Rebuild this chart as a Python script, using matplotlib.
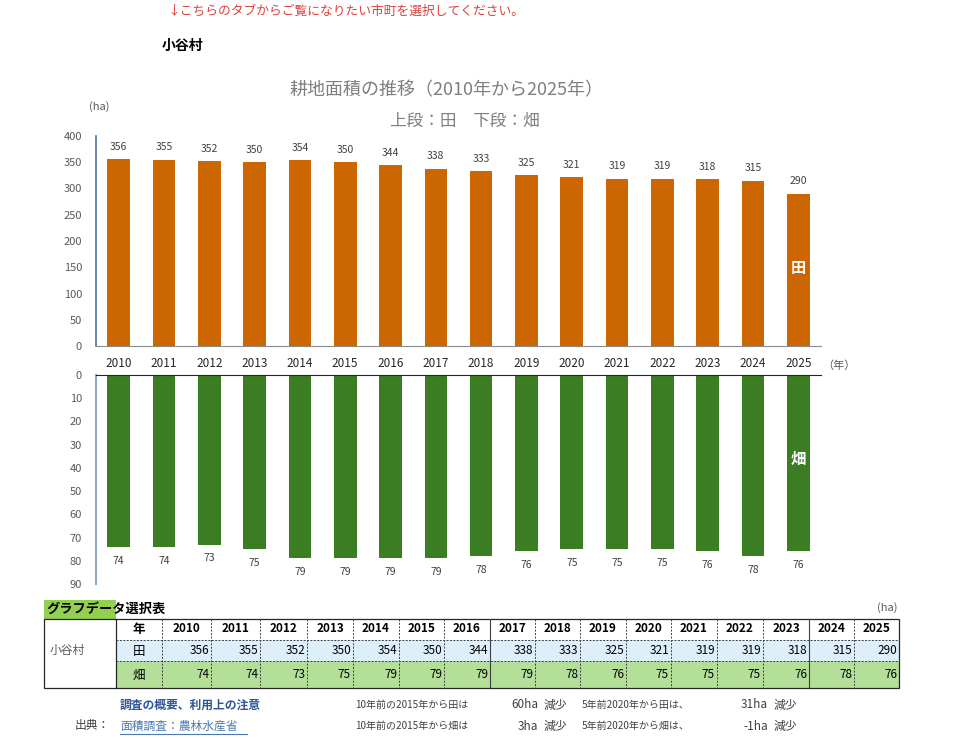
import matplotlib.pyplot as plt
from matplotlib.patches import Rectangle

plt.rcParams['font.family'] = ['Noto Sans CJK JP', 'DejaVu Sans']

# data
years = [2010, 2011, 2012, 2013, 2014, 2015, 2016, 2017,
         2018, 2019, 2020, 2021, 2022, 2023, 2024, 2025]
ta = [356, 355, 352, 350, 354, 350, 344, 338, 333, 325, 321, 319, 319, 318, 315, 290]   # 田
hata = [74, 74, 73, 75, 79, 79, 79, 79, 78, 76, 75, 75, 75, 76, 78, 76]                # 畑
town = '小谷村'

orange = '#CC6600'
green = '#3A7D22'
gray_txt = '#595959'

fig = plt.figure(figsize=(9.6, 7.38), dpi=100)
W, H = 960, 738

x = list(range(len(years)))

# upper chart (田)
ax1 = fig.add_axes([96 / W, 1 - 346 / H, 725 / W, 210 / H])
ax1.bar(x, ta, width=0.5, color=orange)
ax1.set_xlim(-0.5, len(years) - 0.5)
ax1.set_ylim(0, 400)
ax1.set_yticks(range(0, 401, 50))
ax1.set_xticks(x)
ax1.set_xticklabels([str(y) for y in years], fontsize=8.5, color='#262626')
ax1.tick_params(axis='x', length=0, pad=8)
ax1.tick_params(axis='y', length=0, pad=10, labelsize=8, labelcolor=gray_txt)
for s in ['top', 'right']:
    ax1.spines[s].set_visible(False)
ax1.spines['left'].set_color('#4F7394')
ax1.spines['left'].set_linewidth(1.2)
ax1.spines['bottom'].set_color('#8C8C8C')
for i, v in enumerate(ta):
    ax1.annotate(str(v), (i, v), xytext=(0, 9), textcoords='offset points',
                 ha='center', va='center', fontsize=7.5, color='#404040')
ax1.text(len(years) - 1, 148, '田', color='white', fontsize=11, fontweight='bold',
         ha='center', va='center')

# lower chart (畑), inverted
ax2 = fig.add_axes([96 / W, 1 - 584 / H, 725 / W, 209 / H])
ax2.bar(x, hata, width=0.5, color=green)
ax2.set_xlim(-0.5, len(years) - 0.5)
ax2.set_ylim(90, 0)
ax2.set_yticks(range(0, 91, 10))
ax2.set_xticks([])
ax2.tick_params(axis='y', length=0, pad=10, labelsize=8, labelcolor=gray_txt)
for s in ['bottom', 'right']:
    ax2.spines[s].set_visible(False)
ax2.spines['top'].set_color('#262626')
ax2.spines['left'].set_color('#8EA9C1')
ax2.spines['left'].set_linewidth(1.5)
for i, v in enumerate(hata):
    ax2.annotate(str(v), (i, v), xytext=(0, -10), textcoords='offset points',
                 ha='center', va='center', fontsize=7.5, color='#404040')
ax2.text(len(years) - 1, 36, '畑', color='white', fontsize=11, fontweight='bold',
         ha='center', va='center')

# overlay in pixel coordinates for the sheet text and table
ov = fig.add_axes([0, 0, 1, 1])
ov.set_xlim(0, W)
ov.set_ylim(H, 0)
ov.axis('off')
ov.patch.set_alpha(0)

ov.text(168, 11, '↓こちらのタブからご覧になりたい市町を選択してください。',
        color='#E0403C', fontsize=9.2, va='center')
ov.text(162, 46, town, fontsize=10, fontweight='bold', va='center')
ov.text(447, 90, '耕地面積の推移（2010年から2025年）', fontsize=13, color='#7F7F7F',
        ha='center', va='center')
ov.text(465, 121, '上段：田　下段：畑', fontsize=12, color='#7F7F7F',
        ha='center', va='center')
ov.text(89, 107, '(ha)', fontsize=8, color=gray_txt, va='center')
ov.text(822, 366, '（年）', fontsize=8, color=gray_txt, va='center')

# table
ov.add_patch(Rectangle((44, 600), 72, 19, color='#92D050', lw=0))
ov.text(46, 609, 'グラフデータ選択表', fontsize=9.5, fontweight='bold', va='center')
ov.text(897, 608, '(ha)', fontsize=8, color=gray_txt, va='center', ha='right')

edges = [162, 211, 260, 307, 353, 399, 444, 490, 535, 580, 626, 671, 717, 763, 809, 854, 899]
top, r1, r2, bot = 619, 640, 661, 688
ov.add_patch(Rectangle((116, r1), 899 - 116, r2 - r1, color='#DDEFFB', lw=0))
ov.add_patch(Rectangle((116, r2), 899 - 116, bot - r2, color='#B4DF98', lw=0))
ov.add_patch(Rectangle((44, top), 899 - 44, bot - top, fill=False, ec='#262626', lw=0.9))
ov.plot([116, 116], [top, bot], color='#262626', lw=0.9)
for y in [r1, r2]:
    ov.plot([116, 899], [y, y], color='#404040', lw=0.7, ls=(0, (2, 1.5)))
for e in edges[:-1]:
    solid = e in (490, 809)
    ov.plot([e, e], [top, bot], color='#404040', lw=0.8 if solid else 0.7,
            ls='-' if solid else (0, (2, 1.5)))
ov.text(50, 650, town, fontsize=8.5, color=gray_txt, va='center')
ov.text(139, 629, '年', fontsize=9, fontweight='bold', ha='center', va='center')
ov.text(139, 651, '田', fontsize=9, ha='center', va='center')
ov.text(139, 675, '畑', fontsize=9, ha='center', va='center')
for i, yr in enumerate(years):
    cx = (edges[i] + edges[i + 1]) / 2
    ov.text(cx, 629, str(yr), fontsize=8.5, fontweight='bold', ha='center', va='center')
    ov.text(edges[i + 1] - 2, 651, str(ta[i]), fontsize=8.5, ha='right', va='center')
    ov.text(edges[i + 1] - 2, 675, str(hata[i]), fontsize=8.5, ha='right', va='center')

# notes under the table
ov.text(120, 705, '調査の概要、利用上の注意', fontsize=8.5, fontweight='bold',
        color='#2F5597', va='center')
ov.text(75, 726, '出典：', fontsize=8.5, color='#404040', va='center')
ov.text(120, 726, '面積調査：農林水産省', fontsize=8.5, color='#4A7AB0', va='center')
ov.plot([120, 247], [734, 734], color='#4A7AB0', lw=0.8)

i15, i20 = years.index(2015), years.index(2020)
d_ta10 = ta[i15] - ta[-1]
d_hata10 = hata[i15] - hata[-1]
d_ta5 = ta[i20] - ta[-1]
d_hata5 = hata[i20] - hata[-1]
rows = [(705, '田', d_ta10, d_ta5), (726, '畑', d_hata10, d_hata5)]
for yy, kind, d10, d5 in rows:
    ov.text(355, yy, '10年前の2015年から' + kind + 'は', fontsize=7.2, color='#404040', va='center')
    ov.text(538, yy, f'{d10}ha', fontsize=8.5, color='#404040', va='center', ha='right')
    ov.text(543, yy, '減少', fontsize=8.5, color='#404040', va='center')
    ov.text(582, yy, '5年前2020年から' + kind + 'は、', fontsize=7.2, color='#404040', va='center')
    ov.text(768, yy, f'{d5}ha', fontsize=8.5, color='#404040', va='center', ha='right')
    ov.text(773, yy, '減少', fontsize=8.5, color='#404040', va='center')

fig.savefig('out.png', dpi=100)
